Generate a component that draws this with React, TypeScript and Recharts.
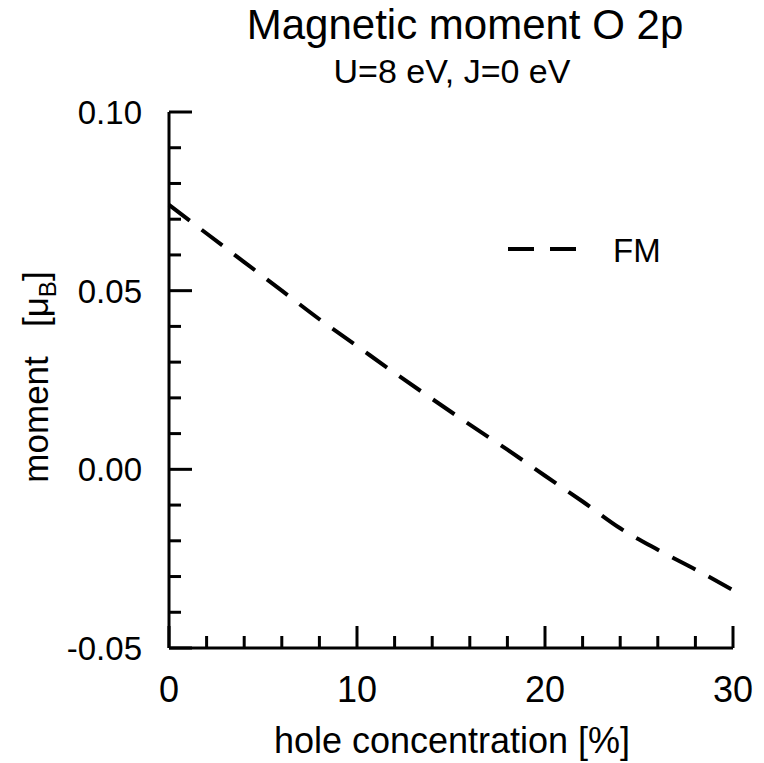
import React from 'react';
import { LineChart, Line, XAxis, YAxis, Legend } from 'recharts';

// hole concentration [%]
const concentration = [0, 2, 4, 6, 8, 10, 12, 14, 16, 18, 20, 22, 24, 26, 28, 30];
// O 2p moment, FM, in mu_B
const momentFM = [
  0.074, 0.066, 0.058, 0.05, 0.042, 0.0345, 0.027, 0.0197, 0.0125, 0.0055,
  -0.0018, -0.009, -0.0165, -0.0225, -0.028, -0.0338,
];

const xTicks = [0, 2, 4, 6, 8, 10, 12, 14, 16, 18, 20, 22, 24, 26, 28, 30];
const yTicks = [-0.05, -0.04, -0.03, -0.02, -0.01, 0, 0.01, 0.02, 0.03, 0.04, 0.05, 0.06, 0.07, 0.08, 0.09, 0.1];

const FONT = '"Liberation Sans", Arial, Helvetica, sans-serif';

const data = concentration.map((c, i) => ({ x: c, fm: momentFM[i] }));

// ticks point inwards, labels only on the major ones
const YTick = (props: any) => {
  const { x, y, payload } = props;
  const v = payload.value;
  const major = Math.round(v * 100) % 5 === 0;
  return (
    <g>
      <line x1={x} x2={x + (major ? 23 : 12)} y1={y} y2={y} stroke="#000" strokeWidth={3} />
      {major && (
        <text x={x - 27} y={y} dy={12} textAnchor="end" fontSize={33} fontFamily={FONT} fill="#000">
          {v.toFixed(2)}
        </text>
      )}
    </g>
  );
};

const XTick = (props: any) => {
  const { x, y, payload } = props;
  const v = payload.value;
  const major = v % 10 === 0;
  return (
    <g>
      <line x1={x} x2={x} y1={y} y2={y - (major ? 22 : 12)} stroke="#000" strokeWidth={3} />
      {major && (
        <text x={x} y={y} dy={54} textAnchor="middle" fontSize={36} fontFamily={FONT} fill="#000">
          {v}
        </text>
      )}
    </g>
  );
};

const YLabel = () => (
  <text
    x={48}
    y={377}
    transform="rotate(-90, 48, 377)"
    textAnchor="middle"
    fontSize={35}
    fontFamily={FONT}
    fill="#000"
    style={{ whiteSpace: 'pre' }}
  >
    {'moment   [μ'}
    <tspan fontSize={24} dy={8}>B</tspan>
    <tspan dy={-8}>]</tspan>
  </text>
);

const XLabel = () => (
  <text x={452} y={753} textAnchor="middle" fontSize={36} fontFamily={FONT} fill="#000">
    hole concentration [%]
  </text>
);

const renderLegend = () => (
  <svg width={200} height={50}>
    <line x1={8} x2={76} y1={29} y2={29} stroke="#000" strokeWidth={4} strokeDasharray="26 16" />
    <text x={113} y={42} fontSize={33} fontFamily={FONT} fill="#000">FM</text>
  </svg>
);

export default function App() {
  return (
    <div style={{ position: 'absolute', left: 0, top: 0, width: 764, height: 763, background: '#fff' }}>
      <LineChart width={764} height={763} data={data} margin={{ top: 112, right: 31, bottom: 0, left: 0 }}>
        <XAxis
          dataKey="x"
          type="number"
          domain={[0, 30]}
          ticks={xTicks}
          interval={0}
          height={115}
          tickSize={0}
          tickMargin={0}
          tickLine={false}
          tick={<XTick />}
          axisLine={{ stroke: '#000', strokeWidth: 3 }}
          label={<XLabel />}
        />
        <XAxis
          xAxisId="top"
          orientation="top"
          dataKey="x"
          type="number"
          domain={[0, 30]}
          height={0}
          tick={false}
          tickLine={false}
          axisLine={{ stroke: '#000', strokeWidth: 3 }}
        />
        <YAxis
          type="number"
          domain={[-0.05, 0.1]}
          ticks={yTicks}
          interval={0}
          width={169}
          tickSize={0}
          tickMargin={0}
          tickLine={false}
          tick={<YTick />}
          axisLine={{ stroke: '#000', strokeWidth: 3 }}
          label={<YLabel />}
        />
        <YAxis
          yAxisId="right"
          orientation="right"
          type="number"
          domain={[-0.05, 0.1]}
          width={0}
          tick={false}
          tickLine={false}
          axisLine={{ stroke: '#000', strokeWidth: 3 }}
        />
        <Legend
          layout="horizontal"
          verticalAlign="middle"
          align="center"
          content={renderLegend}
          wrapperStyle={{ position: 'absolute', left: 500, top: 220, width: 200, height: 50 }}
        />
        <Line
          type="monotone"
          dataKey="fm"
          name="FM"
          stroke="#000"
          strokeWidth={4}
          strokeDasharray="26 15"
          dot={false}
          isAnimationActive={false}
        />
      </LineChart>
      <svg width={764} height={100} style={{ position: 'absolute', left: 0, top: 0 }}>
        <text x={465} y={39} textAnchor="middle" fontSize={42} fontFamily={FONT} fill="#000">
          Magnetic moment O 2p
        </text>
        <text x={452} y={83} textAnchor="middle" fontSize={34} fontFamily={FONT} fill="#000">
          U=8 eV, J=0 eV
        </text>
      </svg>
    </div>
  );
}
